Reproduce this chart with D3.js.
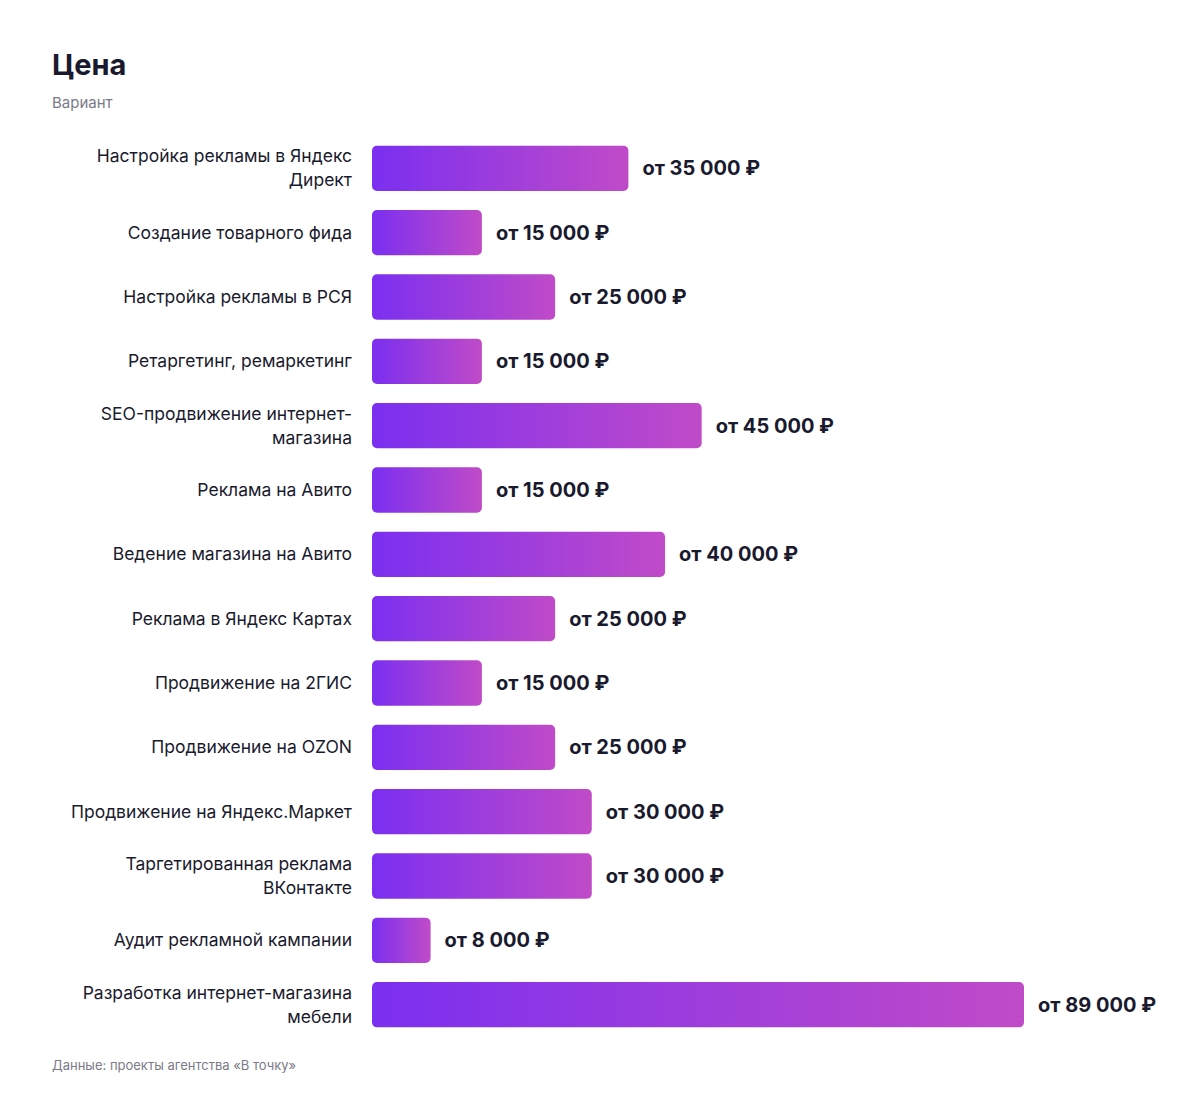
<!DOCTYPE html><html><head><meta charset="utf-8">
<script src="https://cdn.jsdelivr.net/npm/d3@7"></script>
<style>body{margin:0;background:#fff;font-family:Inter,"Noto Sans",sans-serif}</style></head><body>
<svg id="c" width="1200" height="1096"></svg>
<script>
const categories=[["Настройка рекламы в Яндекс","Директ"],["Создание товарного фида"],["Настройка рекламы в РСЯ"],["Ретаргетинг, ремаркетинг"],["SEO-продвижение интернет-","магазина"],["Реклама на Авито"],["Ведение магазина на Авито"],["Реклама в Яндекс Картах"],["Продвижение на 2ГИС"],["Продвижение на OZON"],["Продвижение на Яндекс.Маркет"],["Таргетированная реклама","ВКонтакте"],["Аудит рекламной кампании"],["Разработка интернет-магазина","мебели"]];
const values=[35000,15000,25000,15000,45000,15000,40000,25000,15000,25000,30000,30000,8000,89000];
const svg=d3.select("#c");
const defs=svg.append("defs");
const g0=defs.append("linearGradient").attr("id","gr");
g0.append("stop").attr("offset","0%").attr("stop-color","#7B2FF0");
g0.append("stop").attr("offset","100%").attr("stop-color","#C04BC8");
svg.append("text").attr("x",52).attr("y",75).attr("font-size",29).attr("font-weight",700).attr("fill","#1a1a2e").text("Цена");
svg.append("text").attr("x",52).attr("y",108).attr("font-size",15).attr("fill","#7a7a88").text("Вариант");
svg.append("text").attr("x",52).attr("y",1070).attr("font-size",13).attr("fill","#7a7a88").text("Данные: проекты агентства «В точку»");
const x=d3.scaleLinear().domain([0,89000]).range([372,1024]);
const y=d3.scaleBand().domain(d3.range(values.length)).range([145-9,1028+9]).paddingInner(0.2955).paddingOuter(0.15);
const row=svg.selectAll("g.r").data(values).join("g");
row.append("rect").attr("x",x(0)).attr("y",(d,i)=>y(i)).attr("width",d=>x(d)-x(0)).attr("height",y.bandwidth()).attr("rx",5).attr("fill","url(#gr)");
row.append("text").attr("x",d=>x(d)+14).attr("y",(d,i)=>y(i)+y.bandwidth()/2+7).attr("font-size",20).attr("font-weight",700).attr("fill","#1a1a2e")
 .text(d=>"от "+d3.format(",")(d).replace(/,/g," ")+" ₽");
row.each(function(d,i){
 const lines=categories[i];const cy=y(i)+y.bandwidth()/2;
 lines.forEach((l,k)=>d3.select(this).append("text").attr("x",352).attr("text-anchor","end").attr("font-size",17.5).attr("fill","#1a1a2e")
  .attr("y",cy+6+(k-(lines.length-1)/2)*24).text(l));
});
</script></body></html>
